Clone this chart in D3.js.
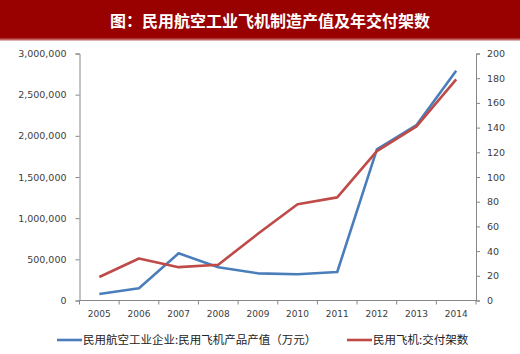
<!DOCTYPE html>
<html>
<head>
<meta charset="utf-8">
<script src="https://cdn.jsdelivr.net/npm/d3@7"></script>
<style>
  body { margin: 0; background: #fff; }
  svg { display: block; }
</style>
</head>
<body>
<div id="chart"></div>
<script>
// Data
const years = ["2005", "2006", "2007", "2008", "2009", "2010", "2011", "2012", "2013", "2014"];
const outputValue = [79000, 148000, 573000, 403000, 330000, 318000, 346000, 1836000, 2131000, 2791000];
const deliveries = [19, 34, 27, 29, 54, 78, 83.5, 121, 141, 179];
const leftTicks = [0, 500000, 1000000, 1500000, 2000000, 2500000, 3000000];
const rightTicks = [0, 20, 40, 60, 80, 100, 120, 140, 160, 180, 200];
const title = "图：民用航空工业飞机制造产值及年交付架数";
const seriesNames = ["民用航空工业企业:民用飞机产品产值（万元）", "民用飞机:交付架数"];

// Set up dimensions
const width = 520;
const height = 354;
const margin = { top: 53.5, right: 44, bottom: 53.5, left: 79.5 };

// Set up colors
const blue = "#4a7ebb";
const red = "#be4b48";
const axisColor = "#878787";
const textColor = "#404040";

const svg = d3.select("#chart").append("svg").attr("width", width).attr("height", height);

// Title bar
svg.append("rect").attr("x", 0).attr("y", 0).attr("width", width).attr("height", 40).attr("fill", "#990000");
svg.append("rect").attr("x", 0).attr("y", 38.5).attr("width", width).attr("height", 2).attr("fill", "#c26262");
svg.append("text")
  .attr("x", 270).attr("y", 21)
  .attr("text-anchor", "middle").attr("dy", "0.35em")
  .attr("fill", "#fff")
  .style("font-family", "'Noto Sans CJK SC', sans-serif")
  .style("font-size", "16px").style("font-weight", "bold")
  .text(title);

// Scales
const x = d3.scaleBand().domain(years).range([margin.left, width - margin.right]);
const yLeft = d3.scaleLinear().domain([0, 3000000]).range([height - margin.bottom, margin.top]);
const yRight = d3.scaleLinear().domain([0, 200]).range([height - margin.bottom, margin.top]);

const tickFont = (g) => g.selectAll("text")
  .attr("fill", textColor)
  .style("font-family", "'DejaVu Sans', sans-serif")
  .style("font-size", "9.5px");

// Left axis
const leftG = svg.append("g")
  .attr("transform", `translate(${margin.left},0)`)
  .call(d3.axisLeft(yLeft).tickValues(leftTicks).tickFormat(d3.format(",")).tickSize(4).tickPadding(9));
leftG.selectAll("path, line").attr("stroke", axisColor);
tickFont(leftG);

// Right axis
const rightG = svg.append("g")
  .attr("transform", `translate(${width - margin.right},0)`)
  .call(d3.axisRight(yRight).tickValues(rightTicks).tickSize(4).tickPadding(7));
rightG.selectAll("path, line").attr("stroke", axisColor);
tickFont(rightG);

// X axis with ticks between categories
const baseY = height - margin.bottom;
const xG = svg.append("g").attr("transform", `translate(0,${baseY})`);
xG.append("line")
  .attr("x1", margin.left).attr("x2", width - margin.right)
  .attr("stroke", axisColor);
xG.selectAll(".tick-mark")
  .data(years.concat("end"))
  .join("line")
  .attr("class", "tick-mark")
  .attr("x1", (d, i) => margin.left + i * x.bandwidth())
  .attr("x2", (d, i) => margin.left + i * x.bandwidth())
  .attr("y1", 0).attr("y2", 4)
  .attr("stroke", axisColor);
xG.selectAll(".year")
  .data(years)
  .join("text")
  .attr("class", "year")
  .attr("x", (d) => x(d) + x.bandwidth() / 2)
  .attr("y", 16)
  .attr("text-anchor", "middle")
  .attr("fill", textColor)
  .style("font-family", "'DejaVu Sans', sans-serif")
  .style("font-size", "9px")
  .text((d) => d);

// Lines
const cx = (d, i) => x(years[i]) + x.bandwidth() / 2;
svg.append("path")
  .datum(outputValue)
  .attr("fill", "none")
  .attr("stroke", blue)
  .attr("stroke-width", 2.6)
  .attr("stroke-linejoin", "round")
  .attr("d", d3.line().x(cx).y((d) => yLeft(d)));
svg.append("path")
  .datum(deliveries)
  .attr("fill", "none")
  .attr("stroke", red)
  .attr("stroke-width", 2.6)
  .attr("stroke-linejoin", "round")
  .attr("d", d3.line().x(cx).y((d) => yRight(d)));

// Legend
const legendItems = [
  { name: seriesNames[0], color: blue, x: 57 },
  { name: seriesNames[1], color: red, x: 347 },
];
const legendG = svg.append("g").selectAll("g")
  .data(legendItems)
  .join("g")
  .attr("transform", (d) => `translate(${d.x},340)`);
legendG.append("line")
  .attr("x1", 0).attr("x2", 25)
  .attr("stroke", (d) => d.color)
  .attr("stroke-width", 2.6);
legendG.append("text")
  .attr("x", 26).attr("dy", "0.35em")
  .attr("fill", "#222")
  .style("font-family", "'Noto Sans CJK SC', sans-serif")
  .style("font-size", "11.5px")
  .text((d) => d.name);
</script>
</body>
</html>
